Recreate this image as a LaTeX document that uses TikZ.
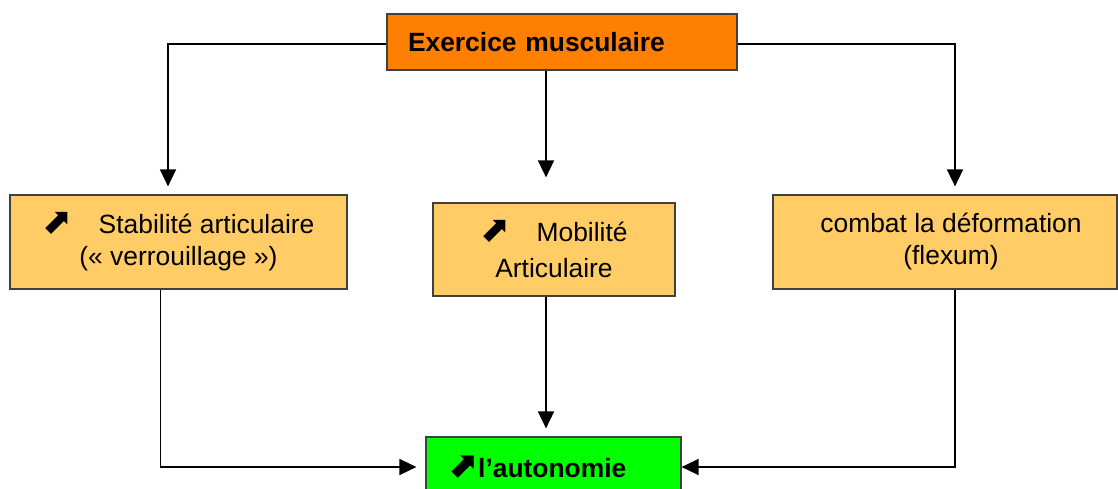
\documentclass[tikz,border=0pt]{standalone}
\usepackage{fontspec}
\setmainfont{Liberation Sans}
\newfontfamily\djv{DejaVu Sans}
\usetikzlibrary{arrows.meta}
\definecolor{topor}{HTML}{FF8000}
\definecolor{boxor}{HTML}{FFCC66}
\definecolor{grn}{HTML}{00FF00}
\definecolor{bord}{HTML}{404040}
\tikzset{
  box/.style={draw=bord, line width=1.2pt, rectangle, inner sep=0pt, font=\fontsize{26.4}{32}\selectfont},
  arr/.style={line width=1.6pt, -{Triangle[length=17pt,width=16pt]}},
  ln/.style={line width=1.6pt}
}
\newcommand{\upar}{{\djv\fontsize{36}{32}\selectfont ⬈}}
\begin{document}
\begin{tikzpicture}[x=1pt,y=-1pt]
\useasboundingbox (0,0) rectangle (1118,489);
\node[box, fill=topor, minimum width=350pt, minimum height=56pt, text width=308pt, align=left] (T) at (562,42) {\textbf{Exercice musculaire}};
\node[box, fill=boxor, minimum width=337pt, minimum height=94pt, align=center] (L) at (178.5,242) {\upar\hspace{26pt}Stabilité articulaire\\(« verrouillage »)};
\node[box, fill=boxor, minimum width=242pt, minimum height=93pt, align=center, font=\fontsize{26.4}{36}\selectfont] (M) at (554,249.5) {\upar\hspace{26pt}Mobilité\\Articulaire};
\node[box, fill=boxor, minimum width=344pt, minimum height=94pt, align=center] (R) at (945,242) {\hspace*{12pt}combat la déformation\\\hspace*{12pt}(flexum)};
\node[box, fill=grn, minimum width=255pt, minimum height=60pt, text width=213pt, align=left] (G) at (553.5,467) {\textbf{\upar\hspace{1pt}l’autonomie}};
\draw[arr, shorten >=8pt] ([yshift=-2pt]T.west) -| ([xshift=-10.5pt]L.north);
\draw[arr, shorten >=8pt] ([yshift=-2pt]T.east) -| ([xshift=10pt]R.north);
\draw[arr, shorten >=25pt] ([xshift=-16pt]T.south) -- ([xshift=-16pt]T.south |- M.north);
\draw[arr, shorten >=8pt] ([xshift=-8pt]M.south) -- ([xshift=-8pt]M.south |- G.north);
\draw[arr, shorten >=9pt] ([xshift=-18pt]L.south) |- (G.west);
\draw[arr] ([xshift=10pt]R.south) |- (G.east);
\end{tikzpicture}
\end{document}
